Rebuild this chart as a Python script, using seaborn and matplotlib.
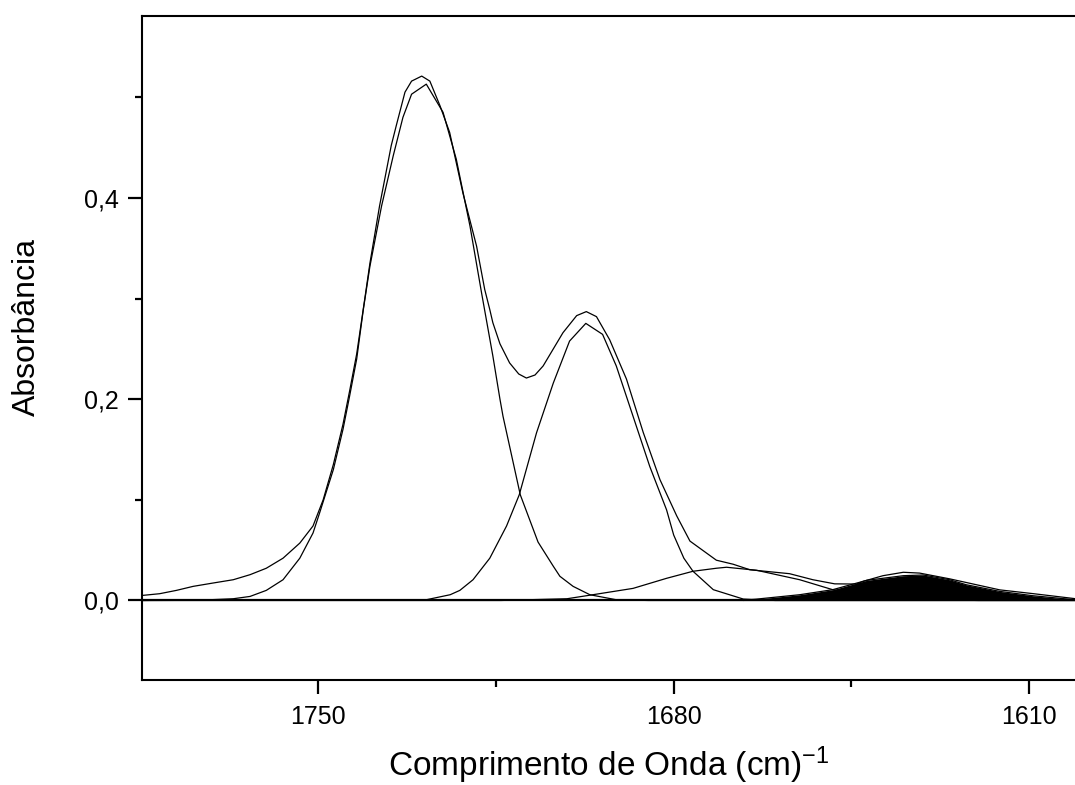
import matplotlib
matplotlib.use("Agg")
import matplotlib.pyplot as plt
import matplotlib.ticker as ticker
import pandas as pd
import seaborn as sns

# total spectrum (envelope)
total_x = [1784.6, 1781.2, 1777.9, 1774.6, 1770.7, 1766.7, 1763.4, 1760.2, 1756.9, 1753.6,
           1751.0, 1749.0, 1747.0, 1745.1, 1743.8, 1742.4, 1740.8, 1739.8, 1737.9, 1735.6,
           1734.6, 1732.9, 1731.6, 1729.6, 1728.0, 1726.0, 1724.1, 1721.5, 1718.8, 1717.2,
           1716.2, 1715.6, 1714.2, 1712.3, 1710.5, 1709.0, 1707.3, 1705.7, 1701.8, 1699.1,
           1697.2, 1695.2, 1692.6, 1689.3, 1686.0, 1682.7, 1679.4, 1676.8, 1671.6, 1668.3,
           1665.0, 1657.2, 1652.6, 1648.3, 1644.0, 1642.7, 1638.8, 1634.8, 1631.6, 1625.7,
           1615.8, 1609.3, 1601.0]
total_y = [0.005, 0.0067, 0.010, 0.014, 0.0173, 0.0206, 0.0256, 0.032, 0.042, 0.057,
           0.074, 0.100, 0.135, 0.175, 0.208, 0.245, 0.300, 0.335, 0.392, 0.452,
           0.472, 0.505, 0.516, 0.521, 0.516, 0.4915, 0.465, 0.405, 0.352, 0.309,
           0.289, 0.276, 0.255, 0.236, 0.225, 0.221, 0.224, 0.233, 0.266, 0.283,
           0.287, 0.282, 0.259, 0.220, 0.167, 0.120, 0.084, 0.059, 0.040, 0.036,
           0.0305, 0.0266, 0.0206, 0.0165, 0.0163, 0.019, 0.0246, 0.028, 0.0272, 0.0215,
           0.0105, 0.0068, 0.0018]

# band 1 (~1729)
band1_x = [1784.6, 1771.3, 1766.7, 1763.4, 1760.2, 1756.9, 1753.6, 1751.0, 1749.7, 1747.0,
           1745.1, 1743.8, 1742.4, 1741.1, 1739.8, 1737.5, 1735.2, 1733.3, 1731.6, 1728.7,
           1725.4, 1722.8, 1720.1, 1717.8, 1715.6, 1714.2, 1713.6, 1710.2, 1706.7, 1703.7,
           1702.4, 1699.8, 1696.5, 1691.3, 1685.0, 1601.0]
band1_y = [0.0, 0.0007, 0.0017, 0.004, 0.010, 0.0206, 0.042, 0.067, 0.087, 0.130,
           0.170, 0.203, 0.240, 0.289, 0.332, 0.392, 0.442, 0.480, 0.503, 0.513,
           0.485, 0.4385, 0.372, 0.305, 0.243, 0.200, 0.183, 0.105, 0.058, 0.034,
           0.024, 0.014, 0.0057, 0.0007, 0.0, 0.0]

# band 2 (~1697)
band2_x = [1784.6, 1728.7, 1724.0, 1722.1, 1719.5, 1716.2, 1712.9, 1710.4, 1707.0, 1703.7,
           1700.5, 1697.3, 1694.0, 1691.3, 1688.0, 1684.7, 1681.4, 1680.0, 1678.0, 1676.2,
           1672.2, 1666.3, 1660.0, 1601.0]
band2_y = [0.0, 0.0007, 0.0057, 0.010, 0.0206, 0.042, 0.074, 0.105, 0.1666, 0.216,
           0.2577, 0.2753, 0.2644, 0.233, 0.183, 0.133, 0.090, 0.065, 0.042, 0.029,
           0.0107, 0.0014, 0.0, 0.0]

# band 3 (broad, ~1669)
band3_x = [1784.6, 1714.0, 1701.0, 1695.9, 1688.0, 1684.7, 1681.4, 1676.2, 1671.6, 1669.6,
           1665.7, 1663.7, 1655.2, 1648.7, 1640.0, 1630.0, 1620.0, 1601.0]
band3_y = [0.0, 0.0, 0.0017, 0.0057, 0.012, 0.017, 0.022, 0.029, 0.032, 0.033,
           0.031, 0.030, 0.0206, 0.0107, 0.004, 0.001, 0.0, 0.0]

# band 4 (filled, ~1631)
band4_x = [1666.3, 1655.2, 1648.7, 1642.0, 1634.8, 1630.9, 1625.7, 1622.4, 1615.8, 1609.3, 1601.0]
band4_y = [0.0, 0.0057, 0.0107, 0.020, 0.0246, 0.0253, 0.0206, 0.0156, 0.009, 0.0047, 0.0007]

x_ticks = [1750, 1680, 1610]
y_ticks = [0.0, 0.2, 0.4]

sns.set_style("ticks", {"axes.edgecolor": "black", "xtick.color": "black",
                        "ytick.color": "black", "text.color": "black",
                        "axes.labelcolor": "black"})
plt.rcParams["font.family"] = ["Liberation Sans", "DejaVu Sans"]
plt.rcParams["mathtext.fontset"] = "custom"
plt.rcParams["mathtext.rm"] = "Liberation Sans"
plt.rcParams["mathtext.it"] = "Liberation Sans:italic"

fig = plt.figure(figsize=(10.75, 7.85), dpi=100)
ax = fig.add_axes([0.1324, 0.1338, 0.8676, 0.8462])

curves = [(total_x, total_y), (band1_x, band1_y), (band2_x, band2_y),
          (band3_x, band3_y), (band4_x, band4_y)]
for cx, cy in curves:
    df = pd.DataFrame({"x": cx, "y": cy})
    sns.lineplot(data=df, x="x", y="y", ax=ax, color="black", linewidth=0.9,
                 estimator=None, sort=False)

ax.fill_between(band4_x, band4_y, 0, color="black", linewidth=0)
ax.axhline(0, color="black", linewidth=1.6)

ax.set_xlim(1784.6, 1601.0)
ax.set_ylim(-0.079, 0.581)
ax.set_xticks(x_ticks)
ax.set_yticks(y_ticks)
ax.xaxis.set_minor_locator(ticker.MultipleLocator(35))
ax.yaxis.set_minor_locator(ticker.MultipleLocator(0.1))
ax.yaxis.set_major_formatter(ticker.FuncFormatter(lambda v, p: f"{v:.1f}".replace(".", ",")))

ax.tick_params(axis="both", which="major", direction="out", length=10, width=1.6,
               color="black", labelcolor="black", labelsize=18, pad=7,
               bottom=True, left=True, top=False, right=False)
ax.tick_params(axis="both", which="minor", direction="out", length=5, width=1.6,
               color="black", bottom=True, left=True, top=False, right=False)
ax.tick_params(axis="x", which="major", pad=8)

for side in ["left", "top", "bottom"]:
    ax.spines[side].set_linewidth(1.5)
    ax.spines[side].set_color("black")
ax.spines["right"].set_visible(False)

ax.set_xlabel(r"Comprimento de Onda (cm)$^{\mathregular{-1}}$", fontsize=24)
ax.set_ylabel("Absorbância", fontsize=23)
ax.yaxis.set_label_coords(-0.108, 0.532)
ax.xaxis.set_label_coords(0.5, -0.097)

fig.savefig("out.png", dpi=100)
